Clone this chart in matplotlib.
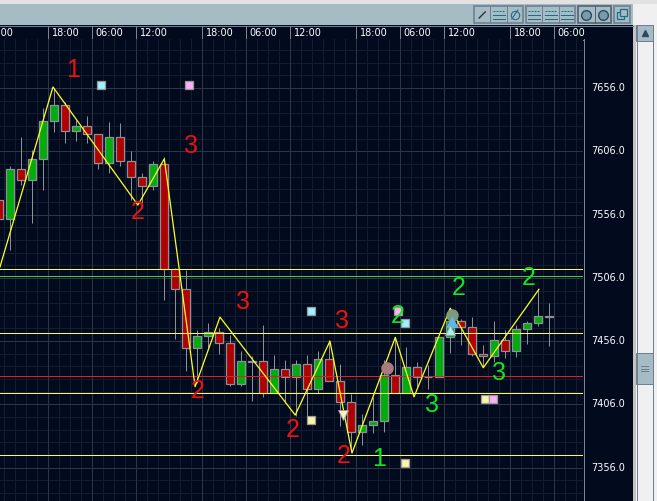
import matplotlib
matplotlib.use('Agg')
import matplotlib.pyplot as plt
from matplotlib.patches import Rectangle

W, H = 657, 501

# candles, one per bar index
opens = [7567.5, 7552.5, 7592, 7583.5, 7600, 7630, 7642.5, 7622, 7626, 7620, 7597, 7617, 7598, 7586, 7578.5,
         7596, 7513, 7497, 7450.5, 7460, 7463, 7454.5, 7422, 7440, 7440, 7415, 7434, 7428, 7438, 7418,
         7442, 7424.5, 7408, 7384, 7390, 7393, 7429, 7415, 7435.5, 7428, 7428, 7459, 7472, 7467, 7446,
         7444, 7457, 7448, 7465.5, 7470, 7476]
closes = [7552.5, 7592, 7583.5, 7600, 7630, 7642.5, 7622, 7626, 7620, 7597, 7617, 7598, 7586, 7578.5, 7596,
          7513, 7497, 7450.5, 7460, 7463, 7454.5, 7422, 7440, 7439.4, 7415, 7434, 7428, 7438, 7418, 7442,
          7424.5, 7408, 7384, 7390, 7393, 7429, 7415, 7435.5, 7428, 7427.4, 7459, 7472, 7467, 7446, 7444.5,
          7457, 7448, 7465.5, 7470, 7476, 7475.4]
highs = [7575, 7594, 7617, 7607, 7640, 7656, 7645, 7631, 7634, 7620, 7629, 7628, 7606, 7589, 7598,
         7601.5, 7514, 7512, 7465, 7470, 7466.5, 7461, 7448, 7444, 7469, 7445, 7441, 7441, 7445, 7448,
         7457, 7438, 7414, 7398.5, 7412, 7441, 7459, 7451.5, 7439.5, 7437, 7459, 7479, 7473.5, 7475, 7453,
         7472, 7465, 7469, 7472, 7497, 7486]
lows = [7536, 7528, 7579.5, 7549, 7575.5, 7621, 7612.5, 7614, 7612.5, 7592, 7589, 7594, 7567.5, 7565, 7575.5,
        7488.5, 7458, 7432.5, 7423, 7450.5, 7446, 7420.5, 7420.5, 7409, 7412, 7415, 7407, 7397, 7394, 7415,
        7424.5, 7389, 7370, 7374, 7383.5, 7384, 7415, 7415, 7420, 7418, 7428, 7447, 7453, 7444, 7435.5,
        7439.5, 7443, 7443.5, 7454, 7468, 7452]

# zigzag
zz_x = [0.06, 4.88, 12.6, 15, 17.8, 20.06, 26.9, 30.06, 32.06, 36, 37.7, 41, 44, 49.06]
zz_y = [7514.6, 7656.8, 7563.5, 7600, 7420, 7475, 7397.6, 7456, 7367.6, 7459, 7412, 7482, 7435, 7497]

# horizontal levels
yellow_levels = [7512.6, 7462.4, 7415, 7365.7]
green_level = 7507.3
red_level = 7428.3

# squares
sq_x = [9.25, 17.25, 28.3, 28.3, 36.25, 36.9, 36.9, 44.15, 44.9]
sq_y = [7658.5, 7658.5, 7480, 7393.5, 7480, 7470.5, 7360, 7410.5, 7410.5]
sq_c = ['#9df3ff', '#ffb0f5', '#9df3ff', '#fff3a8', '#ffb0f5', '#9df3ff', '#fff3a8', '#fff3a8', '#ffb0f5']

# wave numbers
red_labels = [('1', 6.7, 7670), ('3', 17.4, 7610), ('2', 12.6, 7558), ('2', 18, 7417), ('3', 22.2, 7487),
              ('3', 31.2, 7472), ('2', 26.7, 7386), ('2', 31.3, 7365)]
green_labels = [('2', 36.2, 7476), ('1', 34.5, 7363), ('3', 39.3, 7405.5), ('2', 41.8, 7498), ('3', 45.4, 7430.5),
                ('2', 48.1, 7506)]

# time axis
tick_idx = [-1.55, 4.45, 8.45, 12.45, 18.45, 22.45, 26.45, 32.45, 36.45, 40.45, 46.45, 50.45]
tick_txt = ['12:00', '18:00', '06:00', '12:00', '18:00', '06:00', '12:00', '18:00', '06:00', '12:00', '18:00', '06:00']
price_ticks = [7656, 7606, 7556, 7506, 7456, 7406, 7356]

BG = '#020a1e'
MAJOR = '#2d3546'
MINOR = '#141d2f'
EDGE = '#8f8f96'
PANEL = '#a6bcc4'
FRAME = '#6f7f92'
PX = 0.72  # one pixel in points


def px_x(px):
    return (px + 0.7) / 11


def px_y(py):
    return 7725.5 - 0.79 * py


plt.rcParams['font.family'] = ['Liberation Sans', 'DejaVu Sans']
fig = plt.figure(figsize=(W / 100, H / 100), dpi=100, facecolor='#f0f0f0')

# window furniture in pixel coordinates
ui = fig.add_axes([0, 0, 1, 1], zorder=0)
ui.set_xlim(0, W)
ui.set_ylim(H, 0)
ui.axis('off')
ui.add_patch(Rectangle((0, 0), W, 4, fc='#e2e2e2', ec='none'))
ui.add_patch(Rectangle((0, 4), 633, 21, fc=PANEL, ec='none'))
ui.add_patch(Rectangle((0, 25), 633, 476, fc=BG, ec='none'))
ui.add_patch(Rectangle((633, 25), 3, 476, fc='#c4c4c4', ec='none'))
ui.plot([0, 633], [25.5, 25.5], color=FRAME, lw=PX)
ui.plot([0, 583], [39.5, 39.5], color='#7d8594', lw=PX)
ui.plot([583.5, 583.5], [39, 501], color='#7d8594', lw=PX)

# toolbar buttons
for x0, x1, n, col in [(474, 523, 3, FRAME), (526, 575, 3, FRAME), (578, 611, 2, '#56606c'), (614, 630, 1, FRAME)]:
    ui.add_patch(Rectangle((x0, 6), x1 - x0, 17, fc='none', ec=col, lw=1.2))
    step = (x1 - x0) / n
    for k in range(1, n):
        ui.plot([x0 + k * step] * 2, [6, 23], color=col, lw=PX)
    for k in range(n):
        cx = x0 + (k + 0.5) * step
        if x0 == 474 and k == 0:
            ui.plot([cx - 3, cx + 3], [18, 12], color='#2c3e48', lw=1.1)
        elif x0 == 474 and k == 2:
            ui.plot([cx - 3, cx + 3], [19, 10], color='#1d6d86', lw=0.8)
            ui.plot([cx], [14.5], 'o', ms=6, mfc='none', mec='#1d6d86', mew=0.8)
        elif x0 in (474, 526):
            for yy in (10.5, 14.5, 18.5):
                ui.plot([cx - 6, cx + 6], [yy, yy], color='#1d6d86', lw=PX, ls='-' if yy != 10.5 else (0, (2, 1)))
        elif x0 == 578:
            ui.plot([cx], [14.5], 'o', ms=7, mfc='#7f99a6', mec='#1d4f66', mew=1)
        else:
            ui.add_patch(Rectangle((cx - 5, 12), 7, 7, fc='none', ec='#1d6d86', lw=0.9))
            ui.add_patch(Rectangle((cx - 2, 9), 7, 7, fc=PANEL, ec='#1d6d86', lw=0.9))

# scrollbar
ui.add_patch(Rectangle((636, 25), 21, 476, fc='#f0f0f0', ec='none'))
ui.plot([636.5, 636.5], [25, 501], color=FRAME, lw=PX)
ui.plot([652.5, 652.5], [25, 501], color=FRAME, lw=PX)
ui.add_patch(Rectangle((636, 25), 17, 16, fc=PANEL, ec=FRAME, lw=PX))
ui.plot([644.5], [33], '^', ms=5, color='#2f4a5c')
ui.add_patch(Rectangle((636, 353), 17, 31, fc=PANEL, ec=FRAME, lw=PX))
for yy in (366, 368.5, 371):
    ui.plot([641, 648], [yy, yy], color=FRAME, lw=PX)

# time labels and their separators, the first label runs off the left edge as in the screenshot
for idx, txt in zip(tick_idx, tick_txt):
    xp = idx * 11 - 0.7
    ui.plot([xp, xp], [26, 39], color='#7d8594', lw=PX)
    ui.text(xp + 3.5, 32.5, txt, color='white', fontsize=7, family='DejaVu Sans', ha='left', va='center', clip_on=True)

for p in price_ticks:
    ui.text(591.5, (7725.5 - p) / 0.79, '%.1f' % p, color='white', fontsize=7, family='DejaVu Sans', va='center')

# chart
ax = fig.add_axes([0, 0, 583 / W, (H - 39) / H], zorder=1)
ax.set_facecolor(BG)
ax.set_xlim(px_x(0), px_x(583))
ax.set_ylim(px_y(501), px_y(39))
for s in ax.spines.values():
    s.set_visible(False)
ax.tick_params(left=False, bottom=False, labelleft=False, labelbottom=False)

# minor grid is five cells per price step, one cell per bar
minor_y = [price_ticks[-1] - 20 + 10 * k for k in range(36)]
minor_x = [tick_idx[0] + k for k in range(56)]
for y in minor_y:
    ax.axhline(y, color=MINOR, lw=PX, zorder=1)
for x in minor_x:
    ax.axvline(x, color=MINOR, lw=PX, zorder=1)
for y in price_ticks:
    ax.axhline(y, color=MAJOR, lw=PX, zorder=2)
for x in tick_idx:
    ax.axvline(x, color=MAJOR, lw=PX, zorder=2)

for i in range(len(opens)):
    o, c = opens[i], closes[i]
    ax.plot([i, i], [lows[i], highs[i]], color=EDGE, lw=PX, zorder=3, solid_capstyle='butt')
    col = '#00ad0c' if c > o else '#b00000'
    ax.add_patch(Rectangle((i - 0.38, min(o, c)), 0.76, abs(o - c), fc=col, ec=EDGE, lw=0.9, zorder=4))

for lv in yellow_levels:
    ax.axhline(lv, color='#ffff3c', lw=PX, zorder=5)
ax.axhline(green_level, color='#4fc83c', lw=PX, zorder=5)
ax.axhline(red_level, color='#e02020', lw=PX, zorder=5)

ax.plot(zz_x, zz_y, color='#ffff20', lw=0.9, zorder=6)

for x, y, c in zip(sq_x, sq_y, sq_c):
    ax.plot(x, y, 's', ms=6, mfc=c, mec='#9a9a9a', mew=0.9, zorder=7)

ax.plot(35.2, 7434.5, 'o', ms=8, color='#a87c7c', zorder=7)
ax.plot(41.2, 7476.5, 'o', ms=8, color='#7c9a7c', zorder=7)
ax.plot(31.25, 7397.5, 'v', ms=7, mfc='#fff3c0', mec='#9a9a9a', mew=0.6, zorder=8)
ax.plot(41.2, 7471, '^', ms=7.5, color='#62b4ee', zorder=8)
ax.plot(41, 7464.5, '^', ms=7.5, mfc='#a8ecf6', mec='#9a9a9a', mew=0.5, zorder=8)

for txt, x, y in red_labels:
    ax.text(x, y, txt, color='#f01010', fontsize=18, ha='center', va='center', zorder=9)
for txt, x, y in green_labels:
    ax.text(x, y, txt, color='#10e820', fontsize=18, ha='center', va='center', zorder=9)

fig.savefig('out.png', dpi=100, facecolor=fig.get_facecolor())
